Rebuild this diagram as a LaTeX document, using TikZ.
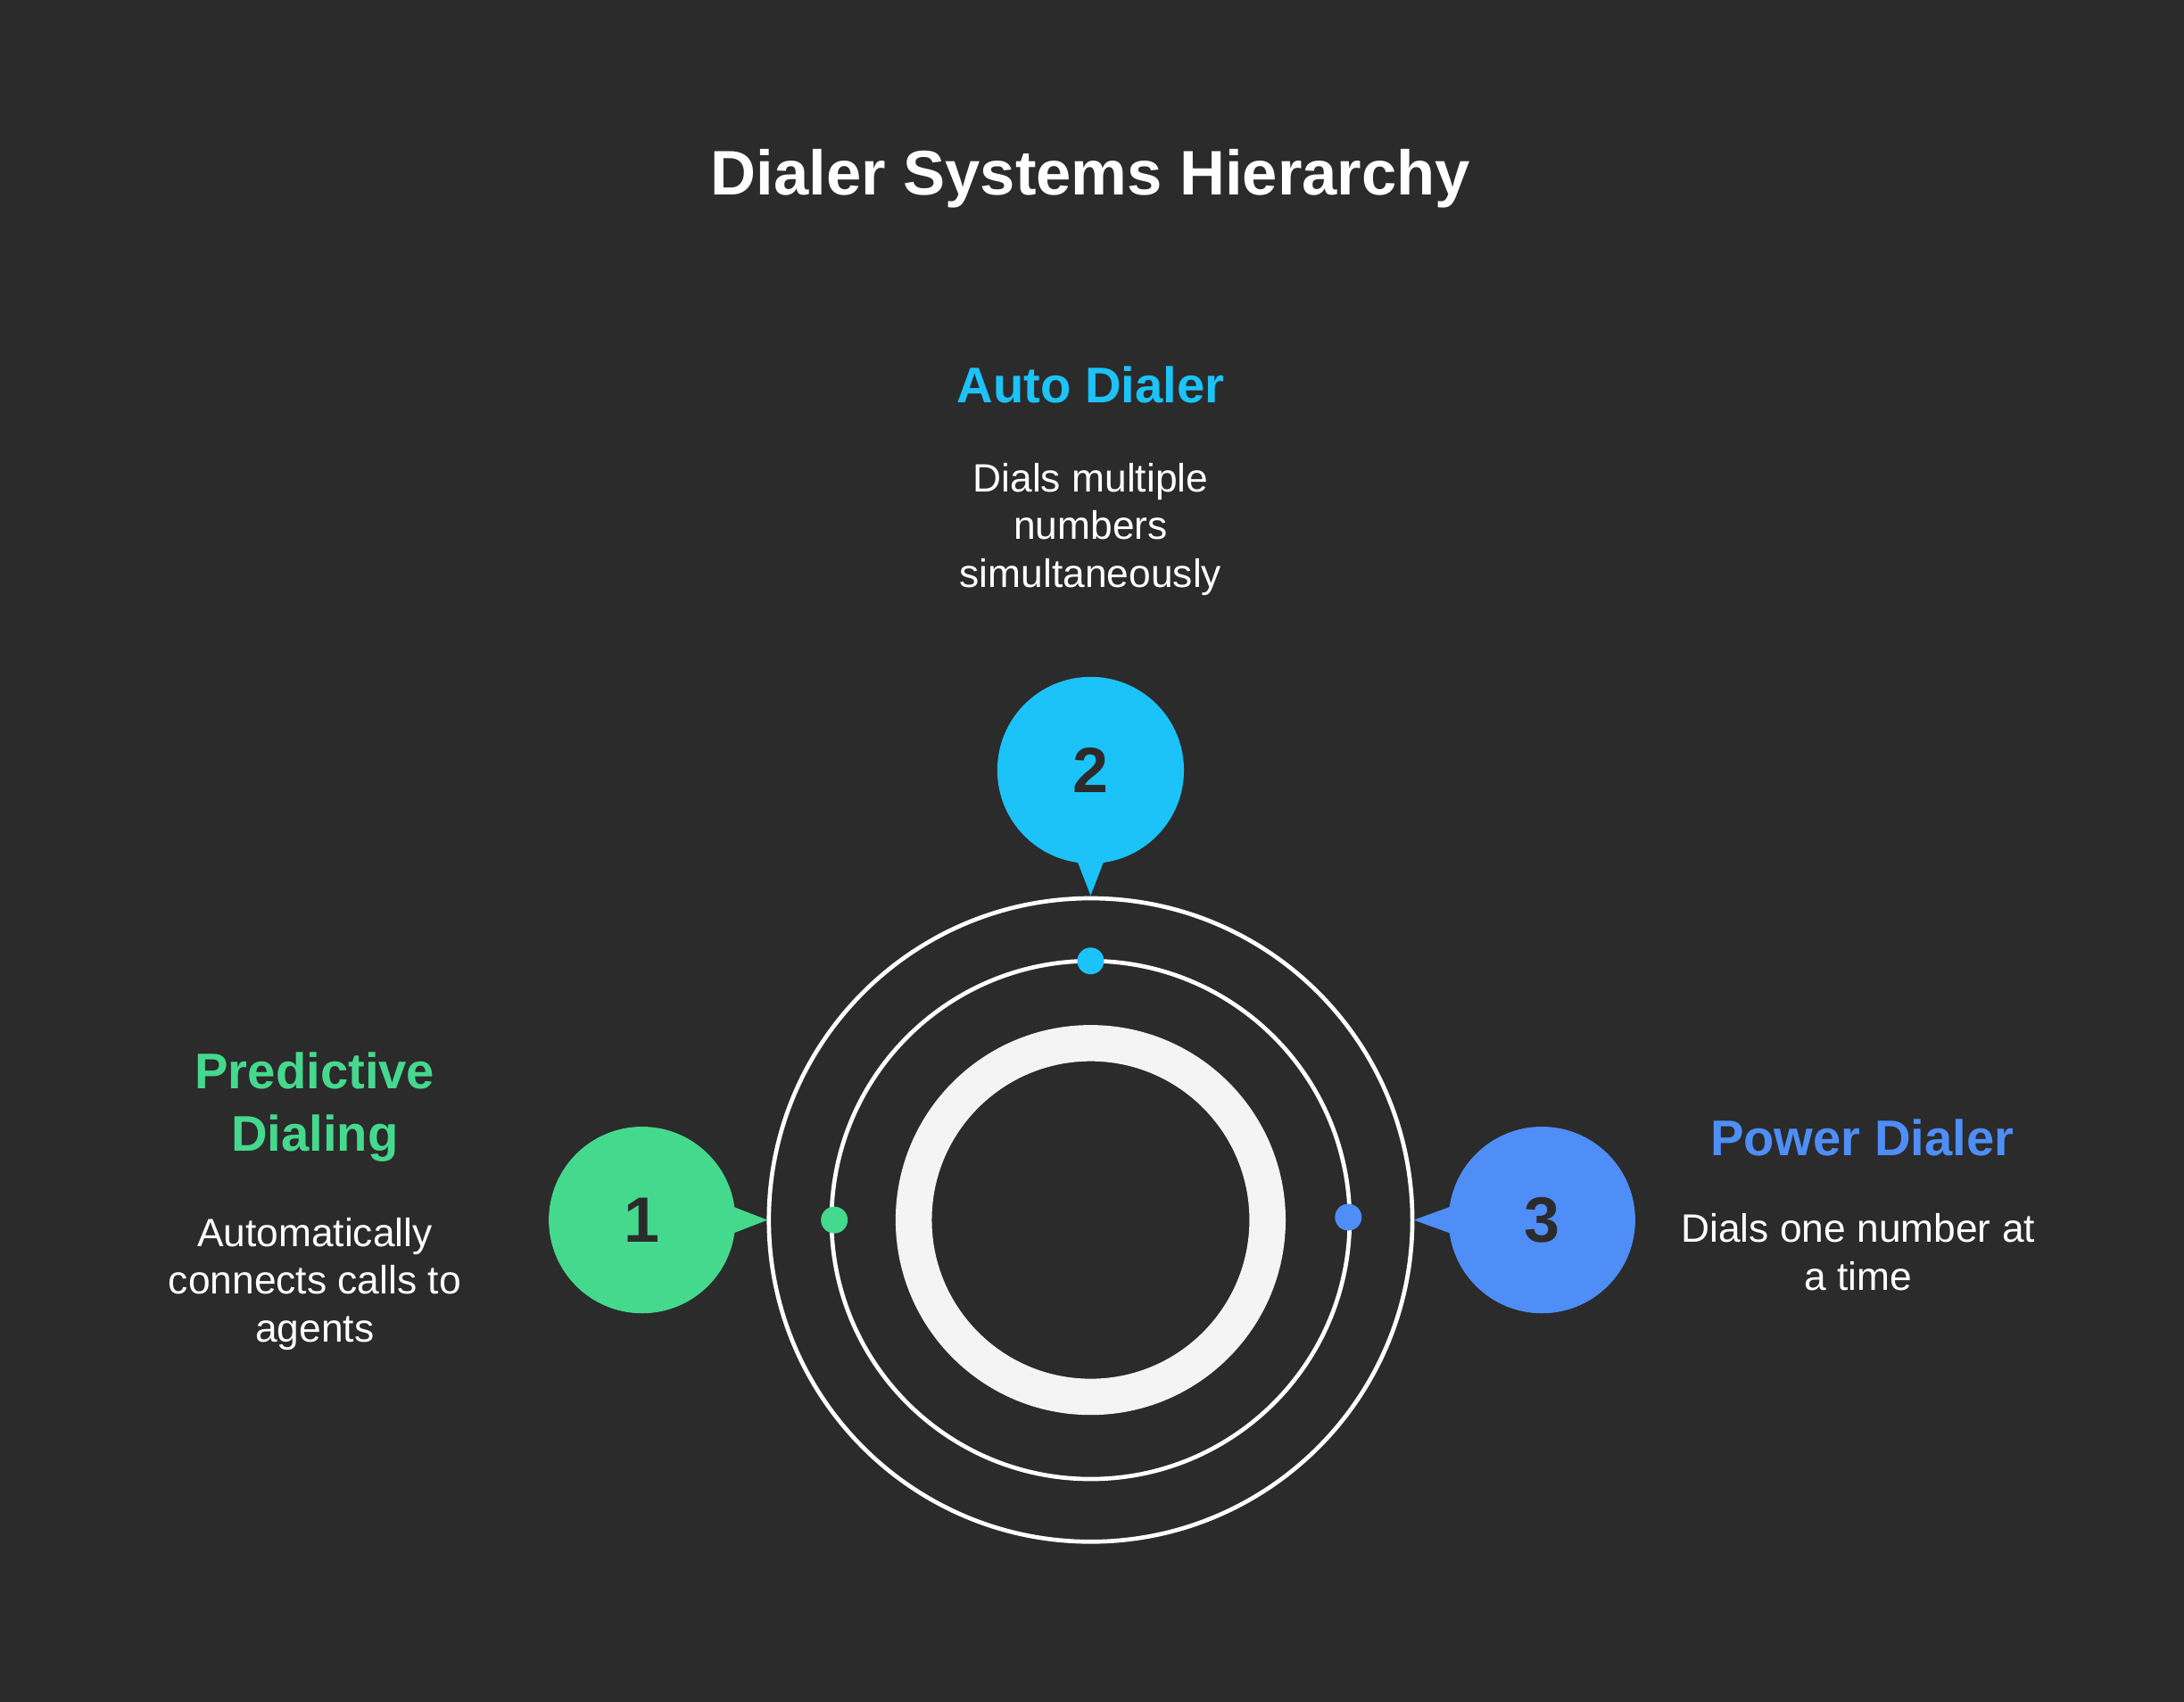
\documentclass[tikz,border=0pt]{standalone}
\usepackage{fontspec}
\setmainfont{Liberation Sans}
\definecolor{bg}{HTML}{2B2B2B}
\definecolor{cg}{HTML}{45D98E}
\definecolor{cc}{HTML}{1CC3F8}
\definecolor{cb}{HTML}{4F8EF7}
\definecolor{ring}{HTML}{F4F4F4}
\begin{document}
\begin{tikzpicture}[x=0.5pt,y=-0.5pt,
  head/.style={font=\fontsize{18}{22.5}\selectfont\bfseries,align=center},
  desc/.style={font=\fontsize{14.2}{17.2}\selectfont,align=center,text=white},
  num/.style={font=\fontsize{23}{26}\selectfont\bfseries,text=bg},
  bubble/.style={circle,minimum size=67pt,inner sep=0pt}]
\fill[bg] (0,0) rectangle (1568,1222);
\useasboundingbox (0,0) rectangle (1568,1222);
\node[font=\fontsize{22.6}{26}\selectfont\bfseries,text=white] (title) at (783,128) {Dialer Systems Hierarchy};
% rings
\coordinate (c) at (783,876);
\draw[white,line width=1.5pt] (c) circle (115.5pt);
\draw[white,line width=1.5pt] (c) circle (93pt);
\draw[ring,line width=13pt] (c) circle (63.5pt);
% dots
\fill[cc] (783,690) circle (4.8pt);
\fill[cg] (599,876) circle (4.8pt);
\fill[cb] (968,874) circle (4.8pt);
% bubbles
\fill[cc] (771,612) -- (795,612) -- (783,643) -- cycle;
\node[bubble,fill=cc] (b2) at (783,553) {};
\node[num] at (b2) {2};
\fill[cg] (520,864) -- (520,888) -- (551,876) -- cycle;
\node[bubble,fill=cg] (b1) at (461,876) {};
\node[num] at (b1) {1};
\fill[cb] (1048,864) -- (1048,888) -- (1015,876) -- cycle;
\node[bubble,fill=cb] (b3) at (1107,876) {};
\node[num] at (b3) {3};
% labels
\node[head,text=cc] (h2) at (783,276) {Auto Dialer};
\node[desc] (d2) at (783,380) {Dials multiple\\numbers\\simultaneously};
\node[head,text=cg] (h1) at (226,795) {Predictive\\Dialing};
\node[desc] (d1) at (226,922) {Automatically\\connects calls to\\agents};
\node[head,text=cb] (h3) at (1337,817) {Power Dialer};
\node[desc] (d3) at (1334,899) {Dials one number at\\a time};
\end{tikzpicture}
\end{document}
